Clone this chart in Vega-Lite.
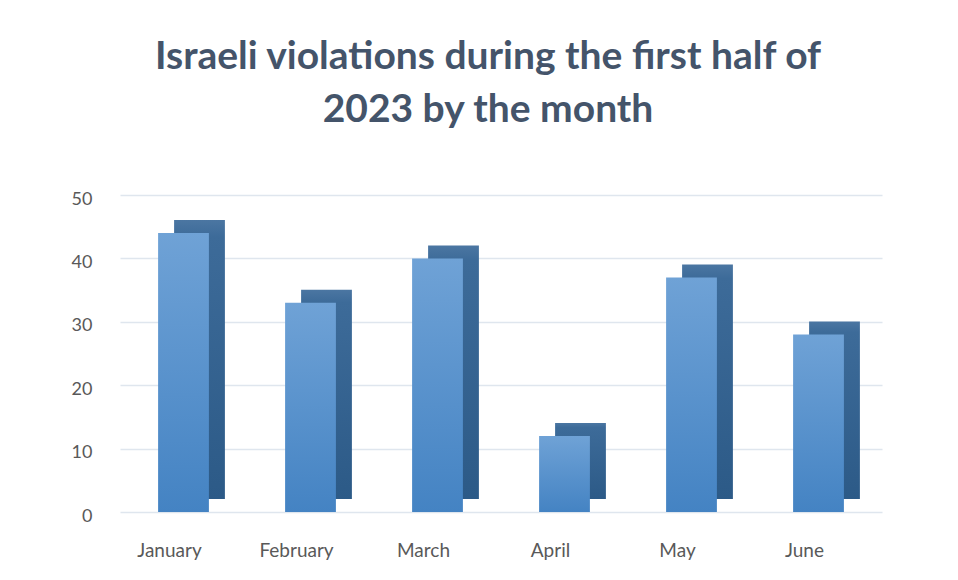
{
  "$schema": "https://vega.github.io/schema/vega-lite/v6.json",
  "autosize": {"type": "none"},
  "width": 762,
  "height": 317,
  "padding": {"left": 120, "top": 195, "right": 76, "bottom": 68},
  "background": "white",
  "title": {
    "text": ["Israeli violations during the first half of", "2023 by the month"],
    "font": "Lato",
    "fontSize": 39,
    "fontWeight": "bold",
    "color": "#44546a",
    "lineHeight": 53,
    "anchor": "middle",
    "dx": -13,
    "offset": 60
  },
  "data": {
    "values": [
      {"month": "January", "violations": 44},
      {"month": "February", "violations": 33},
      {"month": "March", "violations": 40},
      {"month": "April", "violations": 12},
      {"month": "May", "violations": 37},
      {"month": "June", "violations": 28}
    ]
  },
  "encoding": {
    "x": {
      "field": "month",
      "type": "nominal",
      "sort": null,
      "scale": {"paddingInner": 0.6, "paddingOuter": 0.3},
      "axis": {
        "title": null,
        "labelAngle": 0,
        "domain": false,
        "ticks": false,
        "labelFont": "Lato",
        "labelFontSize": 19,
        "labelColor": "#595959",
        "labelPadding": 29,
        "labelOffset": -14
      }
    },
    "y": {
      "field": "violations",
      "type": "quantitative",
      "scale": {"domain": [0, 50], "nice": false},
      "axis": {
        "title": null,
        "values": [0, 10, 20, 30, 40, 50],
        "domain": false,
        "ticks": false,
        "labelFont": "Lato",
        "labelFontSize": 18,
        "labelColor": "#595959",
        "labelPadding": 28,
        "labelOffset": 4,
        "gridColor": "#dfe6ee",
        "gridWidth": 1.5
      }
    }
  },
  "layer": [
    {
      "mark": {
        "type": "bar",
        "xOffset": 16,
        "x2Offset": 16,
        "yOffset": -13,
        "y2Offset": -13,
        "color": {
          "gradient": "linear", "x1": 0, "y1": 0, "x2": 0, "y2": 1,
          "stops": [{"offset": 0, "color": "#4b76a2"}, {"offset": 0.06, "color": "#3d6b99"}, {"offset": 1, "color": "#2c5a87"}]
        }
      }
    },
    {
      "mark": {
        "type": "bar",
        "color": {
          "gradient": "linear", "x1": 0, "y1": 0, "x2": 0, "y2": 1,
          "stops": [{"offset": 0, "color": "#6fa2d6"}, {"offset": 1, "color": "#4483c3"}]
        }
      }
    }
  ],
  "config": {"view": {"stroke": null}}
}
